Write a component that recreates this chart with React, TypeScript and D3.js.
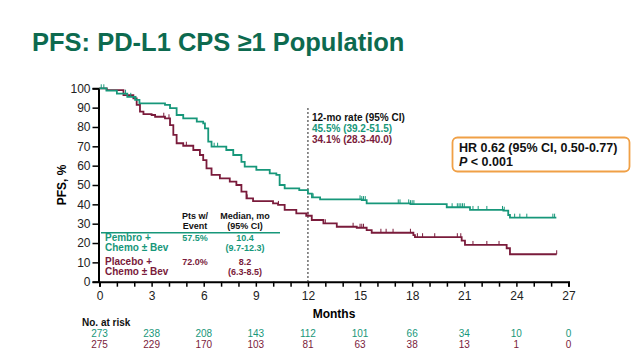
import React, { useEffect, useRef } from "react";
import * as d3 from "d3";

// KM step points (months, PFS %)
const pembroTimes = [0, 0.4, 1.0, 1.6, 2.05, 2.3, 3.77, 4.06, 4.44, 4.82, 5.6, 5.97, 6.07, 6.26, 6.45, 7.3, 7.7, 8.17, 8.36, 9.03, 9.8, 10.18, 10.37, 10.66, 11.5, 12.0, 12.23, 12.7, 15.1, 15.38, 17.9, 19.99, 21.33, 23.25, 23.53, 23.63, 26.3];
const pembroSurv = [100, 98.8, 97.2, 95.6, 94, 92.2, 91.4, 89.7, 86.2, 84.5, 82.8, 81.9, 79.3, 72.4, 69.8, 68.1, 65.5, 62, 59.5, 57.8, 56, 55.2, 50, 48.3, 47.4, 45.5, 43.6, 42.6, 42.2, 40.5, 40.1, 38.5, 37.1, 36.7, 34.5, 33.1, 33.1];
const pembroCensor = [0.1, 0.25, 1.5, 1.8, 2.1, 6.6, 6.8, 12.3, 15.0, 15.1, 15.2, 15.3, 17.2, 17.3, 17.8, 17.9, 18.0, 18.1, 20.3, 20.6, 20.7, 20.8, 20.9, 21.0, 21.5, 21.8, 22.3, 23.2, 23.3, 23.9, 24.2, 24.6, 26.1, 26.2];

const placeboTimes = [0, 0.42, 1.38, 1.95, 2.14, 2.33, 2.53, 3.0, 3.2, 3.77, 4.06, 4.25, 4.44, 4.82, 5.4, 5.78, 5.97, 6.16, 6.45, 6.93, 7.5, 7.88, 8.17, 8.46, 8.84, 9.99, 10.28, 10.66, 11.33, 11.9, 12.22, 12.89, 13.66, 14.81, 15.38, 15.67, 18.07, 18.16, 20.85, 21.04, 23.44, 23.63, 26.32];
const placeboSurv = [100, 99.1, 96.5, 94.8, 91.4, 87.9, 86.6, 86.2, 85.3, 84.5, 81, 75.9, 71.6, 70.3, 68.1, 65.5, 62.9, 58.6, 55.2, 53.4, 51.7, 50, 46.6, 43.1, 41.7, 40.5, 39.7, 37.1, 35.3, 34.1, 31.9, 30.2, 28.4, 27.9, 26.7, 25.3, 24.1, 23, 21.2, 19, 17.3, 14.2, 14.2];
const placeboCensor = [3.7, 4.0, 5.0, 8.5, 10.3, 12.0, 13.0, 14.6, 15.0, 15.1, 15.2, 16.2, 16.5, 16.9, 17.9, 18.3, 18.6, 19.3, 20.6, 20.8, 21.5, 22.3, 23.0, 26.32];

const xTicks = [0, 3, 6, 9, 12, 15, 18, 21, 24, 27];
const yTicks = [0, 10, 20, 30, 40, 50, 60, 70, 80, 90, 100];
const riskPembro = [273, 238, 208, 143, 112, 101, 66, 34, 10, 0];
const riskPlacebo = [275, 229, 170, 103, 81, 63, 38, 13, 1, 0];

const GREEN = "#17977a";
const MAROON = "#7a1b3b";
const TITLE = "#0d6a4f";
const FONT = "'Liberation Sans', Arial, sans-serif";

export default function App() {
  const svgRef = useRef<SVGSVGElement | null>(null);

  useEffect(() => {
    const svg = d3.select(svgRef.current);
    svg.selectAll("*").remove();
    svg.style("font-family", FONT);

    const xScale = d3.scaleLinear().domain([0, 27]).range([99.5, 568.5]);
    const yScale = d3.scaleLinear().domain([0, 100]).range([281.7, 88.3]);

    // title
    svg.append("text")
      .attr("x", 32).attr("y", 50.5)
      .attr("fill", TITLE)
      .style("font-size", "25.5px").style("font-weight", "bold")
      .text("PFS: PD-L1 CPS \u22651 Population");

    // axes
    const xAxis = svg.append("g")
      .attr("transform", `translate(0, ${yScale(0)})`)
      .call(d3.axisBottom(xScale).tickValues(d3.range(0, 28)).tickSize(5).tickFormat((d) => (xTicks.includes(+d) ? String(d) : "")));
    xAxis.select(".domain").attr("stroke-width", 2);
    xAxis.selectAll(".tick line").attr("stroke-width", 1.5);
    xAxis.selectAll("text").style("font-size", "12px").attr("fill", "#222").attr("dy", "0.9em");

    const yAxis = svg.append("g")
      .attr("transform", `translate(${xScale(0) - 1}, 0)`)
      .call(d3.axisLeft(yScale).tickValues(yTicks).tickSize(6).tickPadding(2));
    yAxis.select(".domain").attr("stroke-width", 2);
    yAxis.selectAll(".tick line").attr("stroke-width", 1.5);
    yAxis.selectAll("text").style("font-size", "12px").attr("fill", "#222");

    svg.append("text")
      .attr("transform", `translate(66, 185) rotate(-90)`)
      .attr("text-anchor", "middle")
      .style("font-size", "12px").style("font-weight", "bold")
      .text("PFS, %");

    svg.append("text")
      .attr("x", xScale(13.5)).attr("y", 318)
      .attr("text-anchor", "middle")
      .style("font-size", "12px").style("font-weight", "bold")
      .text("Months");

    // 12-month dashed line
    svg.append("line")
      .attr("x1", xScale(12)).attr("x2", xScale(12))
      .attr("y1", 108).attr("y2", yScale(0))
      .attr("stroke", "#222").attr("stroke-width", 1).attr("stroke-dasharray", "2,2");

    const line = d3.line<[number, number]>()
      .x((d) => xScale(d[0]))
      .y((d) => yScale(d[1]))
      .curve(d3.curveStepAfter);

    const drawCurve = (times: number[], surv: number[], censor: number[], color: string) => {
      const pts = times.map((t, i) => [t, surv[i]] as [number, number]);
      svg.append("path")
        .attr("d", line(pts))
        .attr("fill", "none")
        .attr("stroke", color)
        .attr("stroke-width", 1.8);
      const bis = d3.bisector((d: number) => d).right;
      svg.append("g").selectAll("line")
        .data(censor)
        .enter().append("line")
        .attr("x1", (d) => xScale(d)).attr("x2", (d) => xScale(d))
        .attr("y1", (d) => yScale(surv[Math.max(0, bis(times, d) - 1)]))
        .attr("y2", (d) => yScale(surv[Math.max(0, bis(times, d) - 1)]) - 4)
        .attr("stroke", color).attr("stroke-width", 1);
    };
    drawCurve(placeboTimes, placeboSurv, placeboCensor, MAROON);
    drawCurve(pembroTimes, pembroSurv, pembroCensor, GREEN);

    // 12-mo rate annotation
    const rate = svg.append("g").style("font-size", "10px").style("font-weight", "bold");
    rate.append("text").attr("x", 312).attr("y", 121).attr("fill", "#111").text("12-mo rate (95% CI)");
    rate.append("text").attr("x", 312).attr("y", 132).attr("fill", GREEN).text("45.5% (39.2-51.5)");
    rate.append("text").attr("x", 312).attr("y", 143).attr("fill", MAROON).text("34.1% (28.3-40.0)");

    // HR box
    svg.append("rect")
      .attr("x", 452.5).attr("y", 137.5).attr("width", 177).attr("height", 34)
      .attr("rx", 5).attr("fill", "white")
      .attr("stroke", "#f0a046").attr("stroke-width", 1.8);
    const hr = svg.append("g").style("font-size", "12.5px").style("font-weight", "bold").attr("fill", "#111");
    hr.append("text").attr("x", 459).attr("y", 152).text("HR 0.62 (95% CI, 0.50-0.77)");
    const p = hr.append("text").attr("x", 459).attr("y", 166);
    p.append("tspan").style("font-style", "italic").text("P");
    p.append("tspan").text(" < 0.001");

    // inset legend table
    const tbl = svg.append("g").style("font-size", "9px").style("font-weight", "bold");
    const head = [["Pts w/", "Event", 195], ["Median, mo", "(95% CI)", 245]] as [string, string, number][];
    head.forEach(([a, b, x]) => {
      tbl.append("text").attr("x", x).attr("y", 218.5).attr("text-anchor", "middle").attr("fill", "#111").text(a);
      tbl.append("text").attr("x", x).attr("y", 228.5).attr("text-anchor", "middle").attr("fill", "#111").text(b);
    });
    tbl.append("line").attr("x1", 101).attr("x2", 280).attr("y1", 232.7).attr("y2", 232.7)
      .attr("stroke", GREEN).attr("stroke-width", 1.5);
    const rows = [
      ["Pembro +", "Chemo \u00b1 Bev", "57.5%", "10.4", "(9.7-12.3)", GREEN, 240.5],
      ["Placebo +", "Chemo \u00b1 Bev", "72.0%", "8.2", "(6.3-8.5)", MAROON, 264.5],
    ] as [string, string, string, string, string, string, number][];
    rows.forEach(([a, b, ev, med, ci, col, y]) => {
      tbl.append("text").attr("x", 105).attr("y", y).attr("fill", col).style("font-size", "10px").text(a);
      tbl.append("text").attr("x", 105).attr("y", y + 10).attr("fill", col).style("font-size", "10px").text(b);
      tbl.append("text").attr("x", 195).attr("y", y).attr("text-anchor", "middle").attr("fill", col).text(ev);
      tbl.append("text").attr("x", 245).attr("y", y).attr("text-anchor", "middle").attr("fill", col).text(med);
      tbl.append("text").attr("x", 245).attr("y", y + 10).attr("text-anchor", "middle").attr("fill", col).text(ci);
    });

    // number at risk
    svg.append("text").attr("x", 82).attr("y", 326)
      .style("font-size", "10px").style("font-weight", "bold").attr("fill", "#111")
      .text("No. at risk");
    const risk = svg.append("g").style("font-size", "10px");
    risk.selectAll(".rg").data(riskPembro).enter().append("text")
      .attr("x", (_d, i) => xScale(xTicks[i])).attr("y", 337)
      .attr("text-anchor", "middle").attr("fill", GREEN).text((d) => String(d));
    risk.selectAll(".rm").data(riskPlacebo).enter().append("text")
      .attr("x", (_d, i) => xScale(xTicks[i])).attr("y", 348)
      .attr("text-anchor", "middle").attr("fill", MAROON).text((d) => String(d));
  }, []);

  return (
    <svg
      ref={svgRef}
      width={640}
      height={352}
      style={{ position: "absolute", left: 0, top: 0, background: "white" }}
    />
  );
}
